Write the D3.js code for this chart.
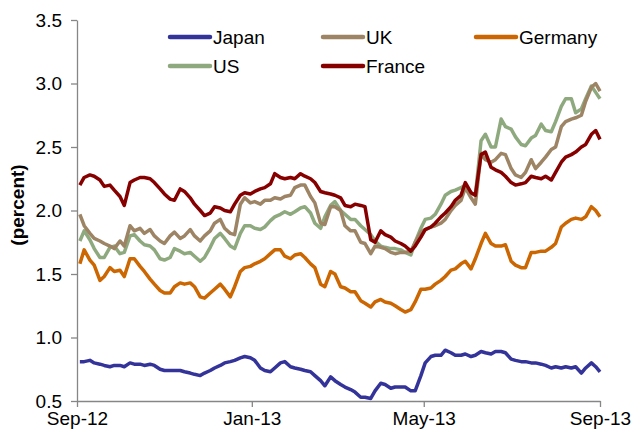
<!DOCTYPE html>
<html>
<head>
<meta charset="utf-8">
<script src="https://cdn.jsdelivr.net/npm/d3@7"></script>
<style>
  body { margin: 0; background: #fff; }
  .chart text { font-family: "Liberation Sans", Arial, sans-serif; }
  .axis path, .axis line { stroke: #868686; }
</style>
</head>
<body>
<div class="chart"></div>
<script>
// twice-weekly readings (Mon / Thu), Sep-12 to Sep-13
const dates = [
  "2012-09-03","2012-09-06","2012-09-10","2012-09-13","2012-09-17","2012-09-20","2012-09-24","2012-09-27",
  "2012-10-01","2012-10-04","2012-10-08","2012-10-11","2012-10-15","2012-10-18","2012-10-22","2012-10-25",
  "2012-10-29","2012-11-01","2012-11-05","2012-11-08","2012-11-12","2012-11-15","2012-11-19","2012-11-22",
  "2012-11-26","2012-11-29","2012-12-03","2012-12-06","2012-12-10","2012-12-13","2012-12-17","2012-12-20",
  "2012-12-24","2012-12-27","2012-12-31","2013-01-03","2013-01-07","2013-01-10","2013-01-14","2013-01-17",
  "2013-01-21","2013-01-24","2013-01-28","2013-01-31","2013-02-04","2013-02-07","2013-02-11","2013-02-14",
  "2013-02-18","2013-02-21","2013-02-25","2013-02-28","2013-03-04","2013-03-07","2013-03-11","2013-03-14",
  "2013-03-18","2013-03-21","2013-03-25","2013-03-28","2013-04-01","2013-04-04","2013-04-08","2013-04-11",
  "2013-04-15","2013-04-18","2013-04-22","2013-04-25","2013-04-29","2013-05-02","2013-05-06","2013-05-09",
  "2013-05-13","2013-05-16","2013-05-20","2013-05-23","2013-05-27","2013-05-30","2013-06-03","2013-06-06",
  "2013-06-10","2013-06-13","2013-06-17","2013-06-20","2013-06-24","2013-06-27","2013-07-01","2013-07-04",
  "2013-07-08","2013-07-11","2013-07-15","2013-07-18","2013-07-22","2013-07-25","2013-07-29","2013-08-01",
  "2013-08-05","2013-08-08","2013-08-12","2013-08-15","2013-08-19","2013-08-22","2013-08-26","2013-08-29",
  "2013-09-01"
];

const japan = [
  0.81,0.81,0.82,0.80,0.79,0.78,0.77,0.78, 0.78,0.77,0.80,0.79,0.79,0.78,0.79,0.78,
  0.75,0.74,0.74,0.74,0.74,0.73,0.72,0.71, 0.70,0.72,0.74,0.76,0.78,0.80,0.81,0.82,
  0.84,0.85,0.84,0.82,0.76,0.74,0.73,0.76, 0.80,0.81,0.77,0.76,0.75,0.74,0.73,0.70,
  0.66,0.62,0.69,0.66,0.63,0.61,0.59,0.57, 0.53,0.53,0.52,0.58,0.64,0.63,0.60,0.61,
  0.61,0.61,0.58,0.58,0.70,0.80,0.85,0.86, 0.86,0.90,0.88,0.86,0.86,0.87,0.85,0.86,
  0.89,0.88,0.87,0.89,0.89,0.88,0.83,0.82, 0.81,0.81,0.80,0.80,0.79,0.78,0.76,0.77,
  0.76,0.77,0.76,0.77,0.72,0.76,0.80,0.77, 0.73
];

const uk = [
  1.97,1.88,1.82,1.78,1.76,1.74,1.72,1.70, 1.76,1.72,1.88,1.84,1.86,1.82,1.85,1.80,
  1.76,1.74,1.80,1.83,1.78,1.80,1.85,1.80, 1.76,1.80,1.84,1.90,1.93,1.86,1.82,1.81,
  2.05,2.10,2.06,2.07,2.05,2.08,2.08,2.10, 2.09,2.11,2.12,2.18,2.20,2.20,2.11,2.06,
  1.90,1.89,2.03,2.03,2.00,1.88,1.84,1.84, 1.75,1.74,1.66,1.72,1.71,1.70,1.67,1.66,
  1.67,1.67,1.68,1.75,1.83,1.85,1.87,1.88, 1.90,1.93,2.00,2.04,2.08,2.18,2.10,2.05,
  2.45,2.40,2.38,2.40,2.45,2.44,2.33,2.28, 2.26,2.30,2.40,2.33,2.38,2.42,2.48,2.50,
  2.66,2.70,2.72,2.73,2.75,2.86,2.97,3.00, 2.94
];

const germany = [
  1.58,1.69,1.61,1.57,1.45,1.48,1.55,1.52, 1.53,1.48,1.62,1.62,1.56,1.52,1.46,1.42,
  1.37,1.35,1.35,1.40,1.43,1.42,1.43,1.40, 1.32,1.31,1.35,1.38,1.42,1.38,1.32,1.40,
  1.52,1.55,1.56,1.58,1.60,1.62,1.66,1.69, 1.69,1.64,1.62,1.65,1.66,1.63,1.58,1.55,
  1.42,1.40,1.52,1.50,1.40,1.39,1.36,1.36, 1.29,1.27,1.24,1.28,1.30,1.28,1.27,1.25,
  1.22,1.20,1.22,1.28,1.38,1.38,1.39,1.42, 1.45,1.48,1.53,1.54,1.58,1.60,1.54,1.62,
  1.74,1.82,1.74,1.72,1.72,1.73,1.60,1.57, 1.55,1.55,1.67,1.67,1.68,1.68,1.71,1.74,
  1.87,1.90,1.93,1.94,1.93,1.95,2.03,2.00, 1.95
];

const us = [
  1.76,1.84,1.77,1.70,1.63,1.63,1.71,1.72, 1.66,1.67,1.80,1.81,1.76,1.73,1.72,1.69,
  1.62,1.61,1.63,1.70,1.68,1.66,1.67,1.64, 1.60,1.63,1.71,1.78,1.82,1.78,1.72,1.70,
  1.82,1.88,1.88,1.86,1.85,1.87,1.92,1.95, 1.97,1.99,1.97,1.99,2.02,2.03,1.98,1.90,
  1.86,1.95,2.04,2.07,2.00,1.97,1.93,1.93, 1.88,1.85,1.81,1.76,1.72,1.71,1.70,1.70,
  1.69,1.67,1.65,1.75,1.86,1.93,1.94,1.97, 2.05,2.12,2.15,2.16,2.18,2.20,2.14,2.12,
  2.55,2.60,2.50,2.50,2.72,2.66,2.64,2.58, 2.52,2.51,2.57,2.59,2.68,2.63,2.62,2.70,
  2.82,2.88,2.88,2.77,2.80,2.88,2.98,2.93, 2.88
];

const france = [
  2.20,2.26,2.28,2.27,2.24,2.19,2.20,2.16, 2.11,2.04,2.22,2.24,2.26,2.26,2.25,2.22,
  2.17,2.13,2.09,2.08,2.17,2.15,2.10,2.05, 2.00,1.96,1.98,2.03,2.02,2.00,1.99,2.05,
  2.12,2.14,2.13,2.15,2.17,2.18,2.21,2.29, 2.26,2.25,2.26,2.25,2.29,2.27,2.25,2.22,
  2.15,2.14,2.13,2.12,2.10,2.04,2.03,2.05, 2.04,2.03,1.77,1.75,1.84,1.81,1.79,1.76,
  1.74,1.72,1.68,1.72,1.79,1.85,1.87,1.90, 1.95,1.98,2.03,2.08,2.12,2.22,2.14,2.12,
  2.44,2.46,2.34,2.32,2.30,2.27,2.22,2.20, 2.21,2.22,2.27,2.26,2.25,2.27,2.24,2.30,
  2.38,2.42,2.44,2.46,2.50,2.52,2.60,2.63, 2.56
];

const yTicks = [0.5, 1.0, 1.5, 2.0, 2.5, 3.0, 3.5];
const xTicks = ["2012-09-01", "2013-01-01", "2013-05-01", "2013-09-01"];

const names = ["Japan", "UK", "Germany", "US", "France"];
const colors = ["#333399", "#9c8464", "#cc6600", "#8fa97f", "#870000"];
// drawing order, France ends on top
const drawOrder = ["Japan", "Germany", "US", "UK", "France"];

const parse = d3.timeParse("%Y-%m-%d");
const fmt = d3.timeFormat("%b-%y");

const W = 631, H = 435;
const margin = ({top: 20, right: 31, bottom: 34, left: 77});
const width = W - margin.left - margin.right;
const height = H - margin.top - margin.bottom;

const svg = d3.select(".chart")
  .append("svg")
  .attr("width", W)
  .attr("height", H)
  .append("g")
  .attr("transform", `translate(${margin.left},${margin.top})`);

const x = d3.scaleTime()
  .domain([parse(xTicks[0]), parse(xTicks[3])])
  .range([0, width]);

const y = d3.scaleLinear()
  .domain([0.5, 3.5])
  .range([height, 0]);

const seriesValues = {Japan: japan, UK: uk, Germany: germany, US: us, France: france};
const color = d3.scaleOrdinal().domain(names).range(colors);

const line = d3.line()
  .x(d => x(d.date))
  .y(d => y(d.v));

drawOrder.forEach(name => {
  const pts = dates.map((d, i) => ({date: parse(d), v: seriesValues[name][i]}));
  svg.append("path")
    .datum(pts)
    .attr("fill", "none")
    .attr("stroke", color(name))
    .attr("stroke-width", 3.5)
    .attr("stroke-linejoin", "round")
    .attr("d", line);
});

const xAxis = d3.axisBottom(x)
  .tickValues(xTicks.map(parse))
  .tickFormat(fmt)
  .tickSize(6)
  .tickSizeOuter(0);

const yAxis = d3.axisLeft(y)
  .tickValues(yTicks)
  .tickFormat(d3.format(".1f"))
  .tickSize(6)
  .tickSizeOuter(0);

const gx = svg.append("g")
  .attr("class", "axis x-axis")
  .attr("transform", `translate(0,${height})`)
  .call(xAxis);
gx.selectAll("text")
  .attr("y", 11)
  .attr("fill", "#000")
  .style("font-size", "19px")
  .attr("dy", "0.71em");

const gy = svg.append("g")
  .attr("class", "axis y-axis")
  .call(yAxis);
gy.selectAll("text")
  .attr("x", -15)
  .attr("fill", "#000")
  .style("font-size", "19px");

svg.selectAll(".axis path").attr("stroke-width", 1.3);
svg.selectAll(".axis line").attr("stroke-width", 1.3);

svg.append("text")
  .attr("transform", `translate(${17 - margin.left},${205 - margin.top}) rotate(-90)`)
  .attr("text-anchor", "middle")
  .attr("dy", "0.35em")
  .style("font-size", "19px")
  .style("font-weight", "bold")
  .text("(percent)");

// legend, 3 columns x 2 rows
const legCols = [170, 323, 476];
const legRows = [37, 66];
const legend = svg.selectAll(".legend")
  .data(names)
  .enter()
  .append("g")
  .attr("class", "legend")
  .attr("transform", (d, i) =>
    `translate(${legCols[i % 3] - margin.left},${legRows[Math.floor(i / 3)] - margin.top})`);

legend.append("line")
  .attr("x1", 0)
  .attr("x2", 40)
  .attr("stroke", d => color(d))
  .attr("stroke-width", 4.5)
  .attr("stroke-linecap", "round");

legend.append("text")
  .attr("x", 43)
  .attr("dy", "0.35em")
  .style("font-size", "19px")
  .text(d => d);
</script>
</body>
</html>
